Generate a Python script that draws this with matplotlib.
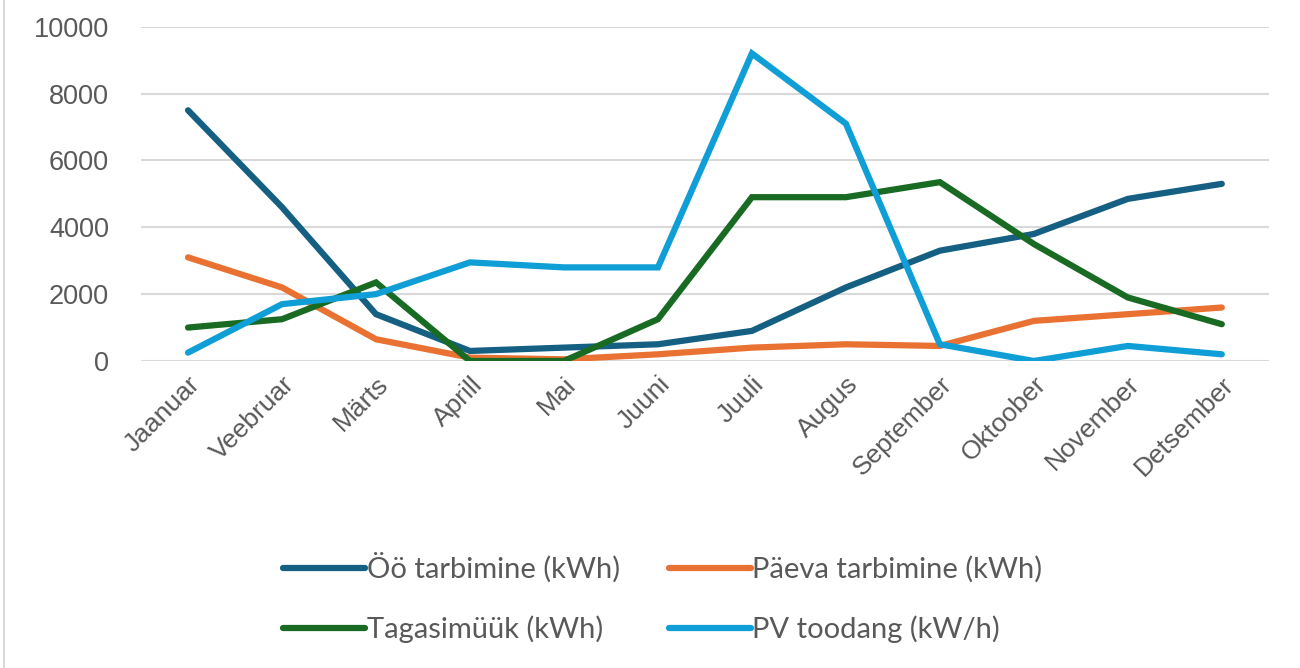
import matplotlib
matplotlib.use("Agg")
import matplotlib.pyplot as plt
from matplotlib.lines import Line2D

months = ["Jaanuar", "Veebruar", "Märts", "Aprill", "Mai", "Juuni", "Juuli",
          "Augus", "September", "Oktoober", "November", "Detsember"]
oo_tarbimine = [7500, 4600, 1400, 300, 400, 500, 900, 2200, 3300, 3800, 4850, 5300]
paeva_tarbimine = [3100, 2200, 650, 100, 50, 200, 400, 500, 450, 1200, 1400, 1600]
tagasimuuk = [1000, 1250, 2350, 0, 0, 1250, 4900, 4900, 5350, 3500, 1900, 1100]
pv_toodang = [250, 1700, 2000, 2950, 2800, 2800, 9200, 7100, 500, 0, 450, 200]
yticks = [0, 2000, 4000, 6000, 8000, 10000]

series = [
    ("Öö tarbimine (kWh)", oo_tarbimine, "#156082"),
    ("Päeva tarbimine (kWh)", paeva_tarbimine, "#E97132"),
    ("Tagasimüük (kWh)", tagasimuuk, "#196B24"),
    ("PV toodang (kW/h)", pv_toodang, "#0F9ED5"),
]

fig = plt.figure(figsize=(13, 6.68), dpi=100)
ax = fig.add_axes([0.1085, 0.4596, 0.8675, 0.5004])

x = list(range(len(months)))
handles = []
for label, vals, color in series:
    h, = ax.plot(x, vals, color=color, lw=4.5, solid_capstyle="round",
                 solid_joinstyle="miter", label=label, zorder=3)
    handles.append(h)

ax.set_xlim(-0.5, len(months) - 0.5)
ax.set_ylim(0, 10000)
ax.set_yticks(yticks)
ax.set_yticklabels([str(v) for v in yticks], fontsize=19.5,
                   family="Liberation Sans", color="#595959")
ax.set_xticks(x)
ax.set_xticklabels(months, rotation=45, ha="right", rotation_mode="anchor",
                   fontsize=19, family="Liberation Sans", color="#595959")
ax.tick_params(length=0, pad=8)
ax.tick_params(axis="y", pad=23)
ax.grid(axis="y", color="#D9D9D9", lw=1.5, zorder=0)
for s in ax.spines.values():
    s.set_visible(False)

# legend filled column-wise: reorder so rows read Öö, Päeva / Tagasimüük, PV
order = [0, 2, 1, 3]
leg = fig.legend(handles=[handles[i] for i in order], loc="center",
                 bbox_to_anchor=(0.51, 0.105),
                 ncol=2, frameon=False, handlelength=2.8,
                 handletextpad=0.05, columnspacing=1.7, labelspacing=1.1,
                 prop={"family": "Lato", "size": 21})
for t in leg.get_texts():
    t.set_color("#595959")

fig.add_artist(Line2D([0.003, 0.003], [0, 1], transform=fig.transFigure,
                      color="#D9D9D9", lw=1.5))

fig.savefig("out.png", dpi=100, facecolor="white")
